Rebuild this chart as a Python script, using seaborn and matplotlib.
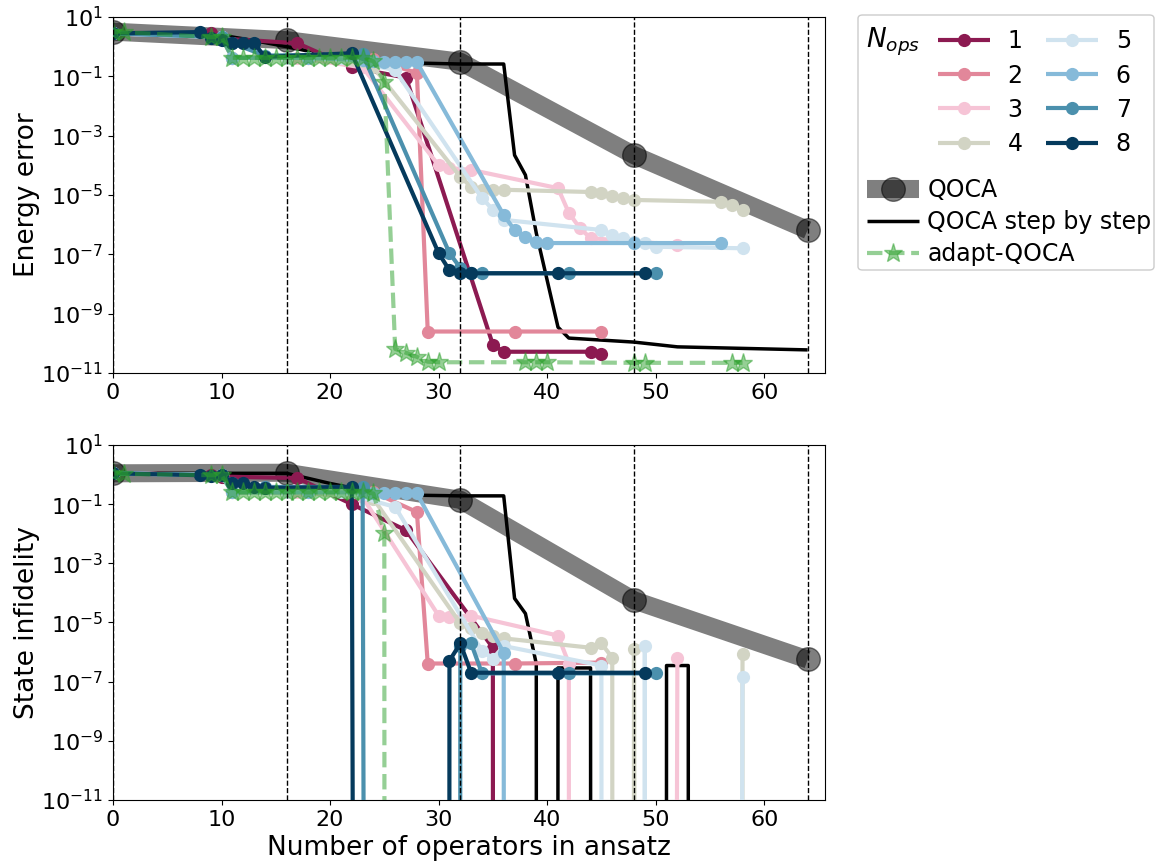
"""
Energy error and state infidelity vs. number of operators in the ansatz
for QOCA, QOCA step by step, adapt-QOCA and the N_ops variants.
"""
import matplotlib
matplotlib.use("Agg")  # non-interactive backend
import matplotlib.pyplot as plt
from matplotlib.lines import Line2D
from matplotlib.patches import FancyBboxPatch
from matplotlib.ticker import NullLocator
import seaborn as sns

sns.set_style("ticks", {
    "axes.edgecolor": "black", "xtick.color": "black", "ytick.color": "black",
    "text.color": "black", "axes.labelcolor": "black",
})
plt.rcParams["font.family"] = ["DejaVu Sans"]
plt.rcParams["font.size"] = 16

# ---- data ----------------------------------------------------------------
qoca_x = [0, 16, 32, 48, 64]
qoca_energy = [3.2, 1.66, 0.31, 2.2e-4, 6.6e-7]
qoca_infid = [1.1, 1.15, 0.14, 5.6e-5, 5.6e-7]

step_x_energy = [0, 9, 13, 16, 20, 24, 28, 32, 36, 37, 38, 39, 41, 42, 48, 52, 64]
step_energy = [2.9, 2.8, 1.6, 1.0, 0.5, 0.32, 0.28, 0.26, 0.26, 2.2e-4, 4.7e-5,
               5.2e-7, 3.5e-10, 1.5e-10, 1.1e-10, 7.6e-11, 6e-11]
step_x_infid = [0, 16, 20, 24, 28, 32, 36, 37, 38, 39, 40, 41, 44, 45, 50, 51, 53, 54, 64]
step_infid = [1.1, 1.1, 0.5, 0.25, 0.2, 0.19, 0.19, 6.5e-5, 2.0e-5, 4e-7, 0,
              2.9e-7, 2.9e-7, 0, 0, 3.5e-7, 3.5e-7, 0, 0]

adapt_x = [0, 1, 9, 10, 11, 12, 13, 14, 15, 16, 17, 18, 19, 20, 21, 22, 23, 24,
           25, 26, 27, 28, 29, 30, 38, 39, 40, 48, 49, 57, 58]
adapt_energy = [3.1, 3.1, 2.1, 2.1, 0.42, 0.42, 0.42, 0.42, 0.42, 0.42, 0.42, 0.42,
                0.42, 0.42, 0.42, 0.42, 0.42, 0.32, 0.065, 6.5e-11, 4.8e-11, 3.5e-11,
                2.4e-11, 2.3e-11, 2.3e-11, 2.3e-11, 2.3e-11, 2.2e-11, 2.2e-11, 2.2e-11, 2.2e-11]
adapt_infid = [1.1, 1.05, 0.95, 0.95, 0.25, 0.25, 0.25, 0.25, 0.25, 0.25, 0.25, 0.25,
               0.25, 0.25, 0.25, 0.25, 0.25, 0.23, 0.0105, 0, 0, 0, 0, 0, 0, 0, 0, 0, 0, 0, 0]

n1_x = [0, 9, 10, 17, 22, 27, 35, 36, 44, 45]
n1_energy = [2.9, 2.8, 1.9, 1.3, 0.2, 0.09, 9e-11, 5.2e-11, 5.2e-11, 4.2e-11]
n1_infid = [1.1, 1.0, 0.85, 0.76, 0.1, 0.013, 1.4e-6, 0, 0, 0]

n2_x = [0, 10, 11, 18, 24, 28, 29, 37, 45]
n2_energy = [2.8, 2.1, 0.42, 0.42, 0.38, 0.13, 2.5e-10, 2.5e-10, 2.5e-10]
n2_infid = [1.1, 0.95, 0.25, 0.25, 0.25, 0.054, 4.1e-7, 4.1e-7, 4.4e-7]

n3_x = [0, 10, 11, 17, 23, 30, 31, 33, 41, 42, 43, 44, 52]
n3_energy = [2.8, 2.1, 0.42, 0.42, 0.2, 1.0e-4, 8.1e-5, 7e-5, 1.7e-5, 2.5e-6,
             7.8e-7, 3.5e-7, 2.1e-7]
n3_infid = [1.1, 0.95, 0.25, 0.25, 0.17, 1.7e-5, 1.5e-5, 1.7e-5, 3.6e-6, 4.1e-7,
            0, 0, 6.3e-7]

n4_x = [0, 10, 11, 18, 24, 32, 33, 34, 35, 36, 44, 45, 46, 47, 48, 56, 57, 58]
n4_energy = [2.8, 2.1, 0.42, 0.42, 0.2, 4.1e-5, 1.9e-5, 1.5e-5, 1.5e-5, 1.5e-5,
             1.26e-5, 1.17e-5, 9.3e-6, 7.9e-6, 6.8e-6, 5.9e-6, 4.7e-6, 3.2e-6]
n4_infid = [1.1, 0.95, 0.25, 0.25, 0.15, 9.3e-6, 6.3e-6, 4.3e-6, 3.5e-6, 2.9e-6,
            1.4e-6, 1.95e-6, 6.5e-7, 0, 1.3e-6, 0, 0, 8.9e-7]

n5_x = [0, 10, 11, 16, 21, 26, 34, 35, 36, 45, 46, 47, 48, 49, 50, 58]
n5_energy = [2.8, 2.1, 0.42, 0.42, 0.4, 0.16, 7.9e-6, 3.2e-6, 1.45e-6, 6.6e-7,
             4.5e-7, 3.5e-7, 2.6e-7, 2.4e-7, 1.8e-7, 1.6e-7]
n5_infid = [1.1, 0.95, 0.25, 0.25, 0.26, 0.08, 1.1e-6, 6e-7, 1.6e-6, 3.5e-7,
            0, 0, 0, 1.66e-6, 0, 1.4e-7]

n6_x = [0, 10, 11, 18, 23, 24, 25, 26, 27, 28, 36, 37, 38, 39, 40, 48, 56]
n6_energy = [2.8, 2.1, 0.42, 0.42, 0.35, 0.32, 0.3, 0.3, 0.3, 0.3, 2.1e-6,
             6.6e-7, 3.8e-7, 2.6e-7, 2.4e-7, 2.4e-7, 2.4e-7]
n6_infid = [1.1, 0.95, 0.25, 0.25, 0.25, 0.24, 0.23, 0.23, 0.23, 0.23, 9.5e-7,
            0, 0, 0, 0, 0, 0]

n7_x = [0, 10, 11, 14, 23, 31, 32, 33, 34, 42, 50]
n7_energy = [2.8, 2.1, 1.3, 0.5, 0.56, 1.1e-7, 3.5e-8, 2.3e-8, 2.3e-8, 2.3e-8, 2.3e-8]
n7_infid = [1.1, 0.95, 0.51, 0.38, 0.38, 0, 1.6e-6, 1.95e-6, 1.9e-7, 1.9e-7, 1.9e-7]

n8_x = [0, 8, 9, 10, 11, 12, 13, 14, 22, 30, 31, 32, 33, 41, 49]
n8_energy = [2.8, 3.1, 1.95, 1.66, 1.32, 1.32, 1.32, 0.45, 0.6, 1.1e-7, 2.9e-8,
             2.3e-8, 2.3e-8, 2.3e-8, 2.3e-8]
n8_infid = [1.1, 0.95, 0.9, 0.95, 0.51, 0.51, 0.38, 0.35, 0.38, 0, 5.1e-7,
            1.95e-6, 2.0e-7, 2.0e-7, 2.0e-7]

nops_labels = ["1", "2", "3", "4", "5", "6", "7", "8"]
nops_colors = ["#8c1a51", "#e2879a", "#f6c4d6", "#d2d4c4",
               "#d0e3ef", "#86bad9", "#4b90ad", "#053a5c"]
block_edges = [0, 16, 32, 48, 64]

nops_x = [n1_x, n2_x, n3_x, n4_x, n5_x, n6_x, n7_x, n8_x]
nops_energy = [n1_energy, n2_energy, n3_energy, n4_energy,
               n5_energy, n6_energy, n7_energy, n8_energy]
nops_infid = [n1_infid, n2_infid, n3_infid, n4_infid,
              n5_infid, n6_infid, n7_infid, n8_infid]

QOCA_KW = dict(color="k", alpha=0.5, lw=13, marker="o", ms=17, solid_capstyle="butt")
STEP_KW = dict(color="k", lw=2.5, solid_capstyle="butt")
ADAPT_KW = dict(color="tab:green", alpha=0.5, lw=3, ls="--", marker="*", ms=14)


def draw_panel(ax, qoca_y, step_x, step_y, adapt_y, nops_y, ylabel):
    ax.plot(qoca_x, qoca_y, zorder=2, **QOCA_KW)
    ax.plot(step_x, step_y, zorder=2.2, **STEP_KW)
    for xs, ys, c in zip(nops_x, nops_y, nops_colors):
        sns.lineplot(x=xs, y=ys, ax=ax, color=c, linewidth=3, marker="o",
                     markersize=9.5, markeredgewidth=0, markeredgecolor=c,
                     estimator=None, sort=False, errorbar=None, zorder=3)
    ax.plot(adapt_x, adapt_y, zorder=4, **ADAPT_KW)
    for xv in block_edges:
        ax.axvline(xv, color="k", ls="--", lw=1, zorder=5)

    ax.set_yscale("log")
    ax.set_ylim(1e-11, 1e1)
    ax.set_xlim(0, 65.6)
    ax.set_yticks([10.0 ** k for k in range(1, -12, -2)])
    ax.yaxis.set_minor_locator(NullLocator())
    ax.set_xticks(range(0, 61, 10))
    ax.tick_params(labelsize=16)
    ax.set_ylabel(ylabel, fontsize=19, labelpad=1)
    ax.set_xlabel("")


fig = plt.figure(figsize=(11.61, 8.67), dpi=100)
ax_e = fig.add_axes([0.0973, 0.5698, 0.6133, 0.4106])
ax_f = fig.add_axes([0.0973, 0.0773, 0.6133, 0.4095])

draw_panel(ax_e, qoca_energy, step_x_energy, step_energy, adapt_energy,
           nops_energy, "Energy error")
draw_panel(ax_f, qoca_infid, step_x_infid, step_infid, adapt_infid,
           nops_infid, "State infidelity")
ax_f.set_xlabel("Number of operators in ansatz", fontsize=19)

# ---- legend: frame + N_ops block + reference curves ------------------------
W, H = 1161.0, 867.0
fig.patches.append(FancyBboxPatch(
    (858 / W, 1 - 270 / H), (1154 - 858) / W, (270 - 15) / H,
    boxstyle="round,pad=0,rounding_size=0.004", transform=fig.transFigure,
    facecolor="white", edgecolor="0.8", lw=1, zorder=1))
fig.text(866 / W, 1 - 42 / H, r"$N_{ops}$", fontsize=19, va="center", ha="left")

nops_handles = [Line2D([], [], color=c, lw=3, marker="o", ms=9.5, mew=0,
                       solid_capstyle="butt") for c in nops_colors]
fig.legend(nops_handles, nops_labels, ncol=2, loc="upper left",
           bbox_to_anchor=(928.5 / W, 1 - 20 / H), bbox_transform=fig.transFigure,
           frameon=False, fontsize=17, handlelength=2.2, handletextpad=0.75,
           columnspacing=1.0, labelspacing=0.43, borderaxespad=0)

ref_handles = [Line2D([], [], **QOCA_KW), Line2D([], [], **STEP_KW),
               Line2D([], [], **ADAPT_KW)]
fig.legend(ref_handles, ["QOCA", "QOCA step by step", "adapt-QOCA"],
           loc="upper left", bbox_to_anchor=(857.5 / W, 1 - 169 / H),
           bbox_transform=fig.transFigure, frameon=False, fontsize=17,
           handlelength=2.2, handletextpad=0.35, labelspacing=0.33, borderaxespad=0)

fig.savefig("out.png", dpi=100)
print("saved out.png")
